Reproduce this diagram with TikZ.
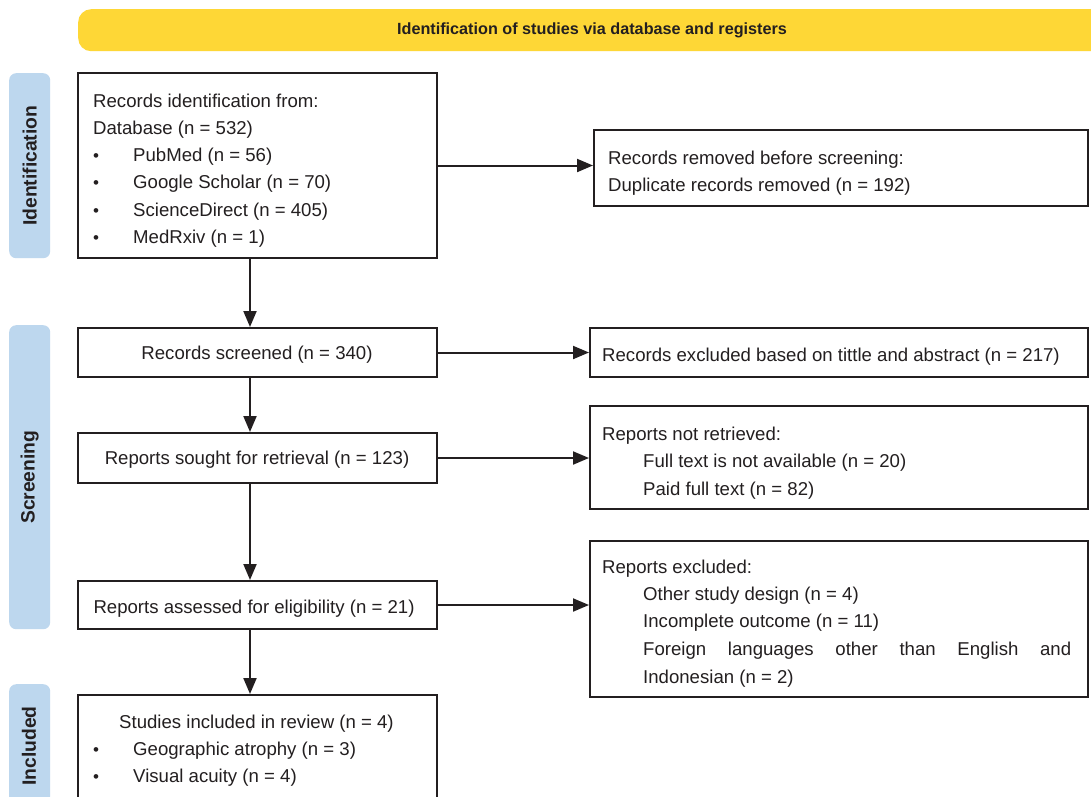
\documentclass[tikz,border=0pt]{standalone}
\usepackage{fontspec}
\setmainfont{Liberation Sans}
\usetikzlibrary{arrows.meta}
\definecolor{ink}{HTML}{231F20}
\definecolor{banner}{HTML}{FED736}
\definecolor{side}{HTML}{BDD7EE}
\tikzset{
  box/.style={draw=ink, line width=2pt, fill=white, inner sep=0pt},
  sidebox/.style={fill=side, rounded corners=7pt, inner sep=0pt},
  sidelabel/.style={rotate=90, font=\fontsize{19.3}{22}\selectfont\bfseries, text=ink},
  txt/.style={anchor=base west, inner sep=0pt, font=\fontsize{18.6}{22}\selectfont, text=ink},
  bul/.style={anchor=base west, inner sep=0pt, font=\fontsize{17}{22}\selectfont, text=ink},
  arr/.style={draw=ink, line width=2pt, -{Triangle[length=16pt,width=13pt]}},
}
\begin{document}
\begin{tikzpicture}[x=1pt,y=-1pt]
\useasboundingbox (0,0) rectangle (1091,796);
\clip (0,0) rectangle (1091,796);
\fill[white] (0,0) rectangle (1091,796);
% banner
\node[fill=banner, rounded corners=13pt, minimum width=1040pt, minimum height=42pt, inner sep=0pt, anchor=north west] (ban) at (78,9) {};
\node[font=\fontsize{16.2}{18}\selectfont\bfseries, text=ink] (bantxt) at (592,30) {Identification of studies via database and registers};
% side labels
\node[sidebox, minimum width=41pt, minimum height=185pt, anchor=north west] (sid1) at (9,73) {};
\node[sidelabel] (sid1t) at (sid1.center) {Identification};
\node[sidebox, minimum width=41pt, minimum height=304pt, anchor=north west] (sid2) at (9,325) {};
\node[sidelabel] (sid2t) at (sid2.center) {Screening};
\node[sidebox, minimum width=41pt, minimum height=140pt, anchor=north west] (sid3) at (9,684) {};
\node[sidelabel] (sid3t) at (29,746) {Included};
% left column boxes
\node[box, minimum width=359pt, minimum height=185pt, anchor=north west] (b1) at (77,72) {};
\node[box, minimum width=359pt, minimum height=49pt, anchor=north west] (scr) at (77,327) {};
\node[box, minimum width=359pt, minimum height=50pt, anchor=north west] (sou) at (77,432) {};
\node[box, minimum width=359pt, minimum height=48pt, anchor=north west] (ass) at (77,580) {};
\node[box, minimum width=359pt, minimum height=130pt, anchor=north west] (inc) at (77,694) {};
% right column boxes
\node[box, minimum width=494pt, minimum height=76pt, anchor=north west] (rem) at (593,129) {};
\node[box, minimum width=498pt, minimum height=49pt, anchor=north west] (exc) at (589,327) {};
\node[box, minimum width=498pt, minimum height=103pt, anchor=north west] (nre) at (589,405) {};
\node[box, minimum width=498pt, minimum height=156pt, anchor=north west] (rex) at (589,540) {};
% box texts
\node[txt] (t11) at (93,107) {Records identification from:};
\node[txt] (t12) at (93,134) {Database (n = 532)};
\node[bul] (u13) at (93,161) {•};
\node[txt] (t13) at (133,161) {PubMed (n = 56)};
\node[bul] (u14) at (93,188) {•};
\node[txt] (t14) at (133,188) {Google Scholar (n = 70)};
\node[bul] (u15) at (93,216) {•};
\node[txt] (t15) at (133,216) {ScienceDirect (n = 405)};
\node[bul] (u16) at (93,243) {•};
\node[txt] (t16) at (133,243) {MedRxiv (n = 1)};
\node[txt] (t21) at (608,164) {Records removed before screening:};
\node[txt] (t22) at (608,191) {Duplicate records removed (n = 192)};
\node[txt, anchor=base] (t3) at (257,359) {Records screened (n = 340)};
\node[txt] (t4) at (602,361) {Records excluded based on tittle and abstract (n = 217)};
\node[txt, anchor=base] (t5) at (257,464) {Reports sought for retrieval (n = 123)};
\node[txt] (t61) at (602,440) {Reports not retrieved:};
\node[txt] (t62) at (643,467) {Full text is not available (n = 20)};
\node[txt] (t63) at (643,495) {Paid full text (n = 82)};
\node[txt, anchor=base] (t7) at (254,613) {Reports assessed for eligibility (n = 21)};
\node[txt] (t81) at (602,573) {Reports excluded:};
\node[txt] (t82) at (643,600) {Other study design (n = 4)};
\node[txt] (t83) at (643,627) {Incomplete outcome (n = 11)};
\node[txt] (t84) at (643,655) {\makebox[428pt][s]{Foreign languages other than English and}};
\node[txt] (t85) at (643,683) {Indonesian (n = 2)};
\node[txt] (t91) at (119,728) {Studies included in review (n = 4)};
\node[bul] (u92) at (93,755) {•};
\node[txt] (t92) at (133,755) {Geographic atrophy (n = 3)};
\node[bul] (u93) at (93,782) {•};
\node[txt] (t93) at (133,782) {Visual acuity (n = 4)};
% connectors
\coordinate (ax) at (250,0);
\draw[arr] (b1.south -| ax) -- (scr.north -| ax);
\draw[arr] (scr.south -| ax) -- (sou.north -| ax);
\draw[arr] (sou.south -| ax) -- (ass.north -| ax);
\draw[arr] (ass.south -| ax) -- (inc.north -| ax);
\draw[arr] (b1.east) -- (b1.east -| rem.west);
\draw[arr] (scr.east) -- (scr.east -| exc.west);
\draw[arr] (sou.east) -- (sou.east -| nre.west);
\draw[arr] (ass.east) -- (ass.east -| rex.west);
\end{tikzpicture}
\end{document}
